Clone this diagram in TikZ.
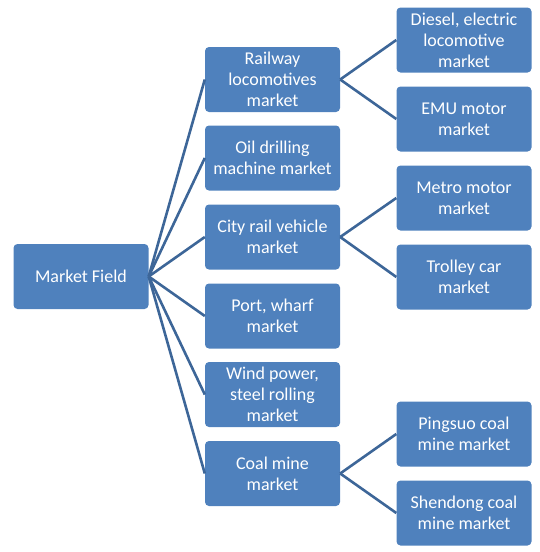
\documentclass[tikz,border=0pt]{standalone}
\usepackage{fontspec}
\setmainfont{Carlito}
\definecolor{boxblue}{HTML}{4F81BD}
\definecolor{lineblue}{HTML}{3D6698}
\begin{document}
\begin{tikzpicture}[x=1pt,y=-1pt,
  box/.style={fill=boxblue, rounded corners=4pt, minimum width=135pt, minimum height=65pt,
    inner sep=0pt, text=white, align=center, font=\fontsize{18}{21}\selectfont},
  link/.style={draw=lineblue, line width=2.6pt}]
\useasboundingbox (0,0) rectangle (540,552);
\node[box] (root) at (81,276.5) {Market Field};
\node[box] (m1) at (272.5,79.5) {Railway\\locomotives\\market};
\node[box] (m2) at (272.5,158) {Oil drilling\\machine market};
\node[box] (m3) at (272.5,237) {City rail vehicle\\market};
\node[box] (m4) at (272.5,316) {Port, wharf\\market};
\node[box] (m5) at (272.5,394.5) {Wind power,\\steel rolling\\market};
\node[box] (m6) at (272.5,473.5) {Coal mine\\market};
\node[box] (r1) at (464,40) {Diesel, electric\\locomotive\\market};
\node[box] (r2) at (464,119) {EMU motor\\market};
\node[box] (r3) at (464,198) {Metro motor\\market};
\node[box] (r4) at (464,277) {Trolley car\\market};
\node[box] (r5) at (464,434) {Pingsuo coal\\mine market};
\node[box] (r6) at (464,513) {Shendong coal\\mine market};
\foreach \m in {m1,m2,m3,m4,m5,m6}{\draw[link] (root.east) -- (\m.west);}
\draw[link] (m1.east) -- (r1.west);
\draw[link] (m1.east) -- (r2.west);
\draw[link] (m3.east) -- (r3.west);
\draw[link] (m3.east) -- (r4.west);
\draw[link] (m6.east) -- (r5.west);
\draw[link] (m6.east) -- (r6.west);
\end{tikzpicture}
\end{document}
